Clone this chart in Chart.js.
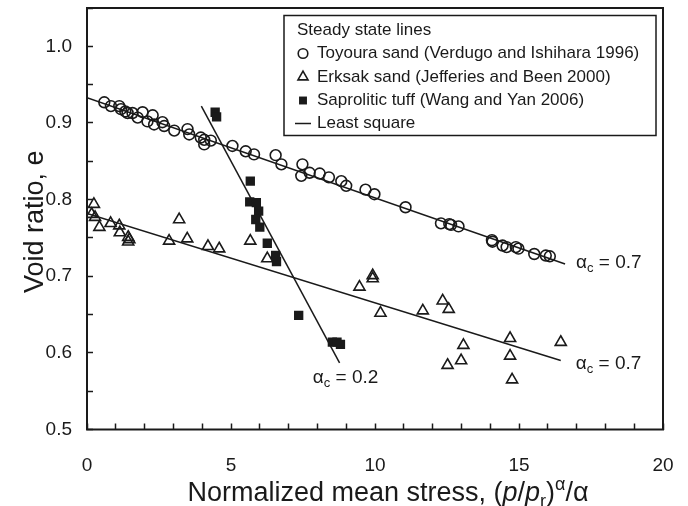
<!DOCTYPE html>
<html>
<head>
<meta charset="utf-8">
<script src="https://cdn.jsdelivr.net/npm/chart.js@4/dist/chart.umd.min.js"></script>
<style>
  html, body { margin: 0; padding: 0; background: #fff; }
  #wrap { width: 688px; height: 506px; position: relative; }
</style>
</head>
<body>
<div id="wrap"><canvas id="chart" width="688" height="506"></canvas></div>
<script>
// Toyoura sand (Verdugo and Ishihara 1996)
const toyouraX = [0.60, 0.83, 1.12, 1.18, 1.33, 1.41, 1.58, 1.76, 1.93, 2.10, 2.28, 2.33, 2.62, 2.68, 3.03, 3.49, 3.55,
  3.95, 4.07, 4.07, 4.30, 5.05, 5.51, 5.80, 6.55, 6.75, 7.48, 7.44, 7.73, 8.08, 8.40, 8.83, 9.00, 9.67, 9.98, 11.06,
  12.29, 12.58, 12.64, 12.90, 14.06, 14.08, 14.43, 14.57, 14.89, 14.98, 15.53, 15.93, 16.07];
const toyouraE = [0.927, 0.922, 0.922, 0.918, 0.915, 0.913, 0.913, 0.907, 0.914, 0.902, 0.910, 0.898, 0.901, 0.896, 0.890, 0.892, 0.885,
  0.881, 0.872, 0.878, 0.877, 0.870, 0.863, 0.859, 0.858, 0.846, 0.846, 0.831, 0.835, 0.834, 0.829, 0.824, 0.818, 0.813, 0.807, 0.790,
  0.769, 0.768, 0.767, 0.765, 0.747, 0.745, 0.740, 0.738, 0.738, 0.736, 0.729, 0.727, 0.726];

// Erksak sand (Jefferies and Been 2000)
const erksakX = [0.24, 0.16, 0.28, 0.43, 0.82, 1.12, 1.14, 1.43, 1.47, 1.43, 2.85, 3.20, 3.48, 4.20, 4.59, 5.67, 6.26,
  9.46, 9.92, 9.92, 10.19, 11.66, 12.35, 12.56, 13.07, 12.52, 12.99, 14.69, 14.69, 14.76, 16.45];
const erksakE = [0.794, 0.781, 0.777, 0.764, 0.769, 0.766, 0.757, 0.751, 0.748, 0.745, 0.746, 0.774, 0.749, 0.739, 0.736, 0.746, 0.723,
  0.686, 0.701, 0.697, 0.652, 0.655, 0.668, 0.657, 0.610, 0.584, 0.590, 0.619, 0.596, 0.565, 0.614];

// Saprolitic tuff (Wang and Yan 2006)
const tuffX = [4.45, 4.50, 5.67, 5.65, 5.88, 5.96, 5.86, 6.00, 6.26, 6.55, 6.58, 7.35, 8.52, 8.68, 8.80];
const tuffE = [0.914, 0.908, 0.824, 0.797, 0.796, 0.785, 0.774, 0.764, 0.743, 0.727, 0.719, 0.649, 0.614, 0.614, 0.611];

// Least-square steady state lines (end points)
const toyouraFitX = [0, 16.6];
const toyouraFitE = [0.933, 0.716];
const erksakFitX = [0, 16.45];
const erksakFitE = [0.782, 0.590];
const tuffFitX = [3.97, 8.77];
const tuffFitE = [0.922, 0.587];

// Line annotations
const alphaLabels = ['0.7', '0.7', '0.2'];

// Axis tick labels
const xTickLabels = [0, 5, 10, 15, 20];
const yTickLabels = [0.5, 0.6, 0.7, 0.8, 0.9, 1.0];

const legendNames = [
  'Toyoura sand (Verdugo and Ishihara 1996)',
  'Erksak sand (Jefferies and Been 2000)',
  'Saprolitic tuff (Wang and Yan 2006)',
  'Least square'
];

const FONT = '"Liberation Sans", Arial, Helvetica, sans-serif';
const INK = '#1a1a1a';

const toPoints = (xs, ys) => xs.map((x, i) => ({ x: x, y: ys[i] }));

const circleStyle = { pointStyle: 'circle', radius: 5.4, borderWidth: 1.6, borderColor: INK, backgroundColor: 'rgba(0,0,0,0)' };
const triStyle = { pointStyle: 'triangle', radius: 6.4, borderWidth: 1.6, borderColor: INK, backgroundColor: 'rgba(0,0,0,0)' };
const rectStyle = { pointStyle: 'rect', radius: 6.6, borderWidth: 0, borderColor: INK, backgroundColor: INK };

function lineSet(xs, ys) {
  return {
    type: 'scatter',
    data: toPoints(xs, ys),
    showLine: true,
    borderColor: INK,
    borderWidth: 1.5,
    pointRadius: 0,
    pointHoverRadius: 0,
    fill: false
  };
}

function markerSet(xs, ys, st) {
  return {
    type: 'scatter',
    data: toPoints(xs, ys),
    pointStyle: st.pointStyle,
    pointRadius: st.radius,
    pointHoverRadius: st.radius,
    pointBorderWidth: st.borderWidth,
    pointBorderColor: st.borderColor,
    pointBackgroundColor: st.backgroundColor,
    borderColor: st.borderColor,
    backgroundColor: st.backgroundColor,
    showLine: false
  };
}

// Draws a sequence of text runs (mixed fonts, sub/superscripts) on one baseline
function runsWidth(ctx, runs) {
  let w = 0;
  runs.forEach(r => { ctx.font = r.font; w += ctx.measureText(r.t).width; });
  return w;
}
function drawRuns(ctx, runs, x, y, align) {
  const w = runsWidth(ctx, runs);
  let cx = align === 'center' ? x - w / 2 : (align === 'right' ? x - w : x);
  ctx.textBaseline = 'alphabetic';
  ctx.textAlign = 'left';
  runs.forEach(r => {
    ctx.font = r.font;
    ctx.fillText(r.t, cx, y + (r.dy || 0));
    cx += ctx.measureText(r.t).width;
  });
}

function drawMarker(ctx, st, x, y) {
  ctx.save();
  ctx.strokeStyle = st.borderColor;
  ctx.fillStyle = st.backgroundColor;
  ctx.lineWidth = st.borderWidth;
  if (Chart.helpers && Chart.helpers.drawPoint) {
    Chart.helpers.drawPoint(ctx, { pointStyle: st.pointStyle, radius: st.radius, borderWidth: st.borderWidth, rotation: 0 }, x, y);
  }
  ctx.restore();
}

const decorations = {
  id: 'decorations',
  afterDraw(chart) {
    const ctx = chart.ctx;
    const a = chart.chartArea;
    const xs = chart.scales.x, ys = chart.scales.y;
    ctx.save();
    ctx.fillStyle = INK;

    // plot frame
    ctx.strokeStyle = INK;
    ctx.lineWidth = 2;
    ctx.strokeRect(a.left, a.top, a.right - a.left, a.bottom - a.top);

    // axis titles
    const tf = 27;
    const main = tf + 'px ' + FONT;
    const ital = 'italic ' + tf + 'px ' + FONT;
    const small = '18px ' + FONT;
    drawRuns(ctx, [
      { t: 'Normalized mean stress, (', font: main },
      { t: 'p', font: ital },
      { t: '/', font: main },
      { t: 'p', font: ital },
      { t: 'r', font: small, dy: 6 },
      { t: ')', font: main },
      { t: 'α', font: small, dy: -11 },
      { t: '/α', font: main }
    ], 388, 501, 'center');

    ctx.save();
    ctx.translate(43, (a.top + a.bottom) / 2 + 3);
    ctx.rotate(-Math.PI / 2);
    drawRuns(ctx, [{ t: 'Void ratio, e', font: main }], 0, 0, 'center');
    ctx.restore();

    // alpha_c labels next to the fitted lines
    const lf = '19px ' + FONT;
    const sf = '13px ' + FONT;
    const lbl = (txt, px, py, align) => drawRuns(ctx, [
      { t: 'α', font: lf },
      { t: 'c', font: sf, dy: 4 },
      { t: ' = ' + txt, font: lf }
    ], px, py, align);
    lbl(alphaLabels[0], xs.getPixelForValue(toyouraFitX[1]) + 11, ys.getPixelForValue(toyouraFitE[1]) + 4, 'left');
    lbl(alphaLabels[1], xs.getPixelForValue(erksakFitX[1]) + 15, ys.getPixelForValue(erksakFitE[1]) + 8, 'left');
    lbl(alphaLabels[2], xs.getPixelForValue(tuffFitX[1]) + 6, ys.getPixelForValue(tuffFitE[1]) + 20, 'center');

    // legend box
    const bx = a.right - 379, by = a.top + 7.5, bw = 372, bh = 120;
    ctx.fillStyle = '#fff';
    ctx.fillRect(bx, by, bw, bh);
    ctx.strokeStyle = INK;
    ctx.lineWidth = 1.5;
    ctx.strokeRect(bx, by, bw, bh);
    ctx.fillStyle = INK;
    ctx.font = '17px ' + FONT;
    ctx.textBaseline = 'middle';
    ctx.textAlign = 'left';
    ctx.fillText('Steady state lines', bx + 13, by + 15);
    const rowY = [38, 61.5, 85, 108];
    const styles = [circleStyle, triStyle, rectStyle];
    for (let i = 0; i < 4; i++) {
      const ry = by + rowY[i];
      if (i < 3) {
        const st = Object.assign({}, styles[i]);
        st.radius = i === 2 ? 5.6 : (i === 1 ? 5.8 : 4.8);
        drawMarker(ctx, st, bx + 19, ry);
      } else {
        ctx.strokeStyle = INK;
        ctx.lineWidth = 1.5;
        ctx.beginPath();
        ctx.moveTo(bx + 11, ry);
        ctx.lineTo(bx + 27, ry);
        ctx.stroke();
      }
      ctx.fillStyle = INK;
      ctx.font = '17px ' + FONT;
      ctx.textBaseline = 'middle';
      ctx.fillText(legendNames[i], bx + 33, ry);
    }
    ctx.restore();
  }
};

const isLabelled = (v, list) => list.some(t => Math.abs(t - v) < 1e-6);

const noPad = s => { s.paddingTop = 0; s.paddingBottom = 0; s.paddingLeft = 0; s.paddingRight = 0; };

new Chart(document.getElementById('chart'), {
  type: 'scatter',
  data: {
    datasets: [
      lineSet(toyouraFitX, toyouraFitE),
      lineSet(erksakFitX, erksakFitE),
      lineSet(tuffFitX, tuffFitE),
      markerSet(toyouraX, toyouraE, circleStyle),
      markerSet(erksakX, erksakE, triStyle),
      markerSet(tuffX, tuffE, rectStyle)
    ]
  },
  options: {
    responsive: false,
    animation: false,
    devicePixelRatio: 1,
    layout: { padding: { top: 7.5, right: 25, left: 0, bottom: 0 } },
    plugins: {
      legend: { display: false },
      tooltip: { enabled: false },
      title: { display: false }
    },
    scales: {
      x: {
        type: 'linear',
        min: 0, max: 20,
        border: { display: false },
        grid: { drawOnChartArea: false, drawTicks: true, tickLength: -6, tickWidth: 1.5, color: INK },
        ticks: {
          stepSize: 1, autoSkip: false, maxRotation: 0, padding: 31,
          color: INK, font: { family: FONT, size: 19 },
          callback: v => isLabelled(v, xTickLabels) ? String(v) : ''
        },
        afterFit: s => { s.height = 76.5; noPad(s); }
      },
      y: {
        type: 'linear',
        min: 0.5, max: 1.05,
        border: { display: false },
        grid: { drawOnChartArea: false, drawTicks: true, tickLength: -6, tickWidth: 1.5, color: INK },
        ticks: {
          stepSize: 0.05, autoSkip: false, padding: 21,
          color: INK, font: { family: FONT, size: 19 },
          callback: v => isLabelled(v, yTickLabels) ? v.toFixed(1) : ''
        },
        afterFit: s => { s.width = 87; noPad(s); }
      }
    }
  },
  plugins: [decorations]
});
</script>
</body>
</html>
